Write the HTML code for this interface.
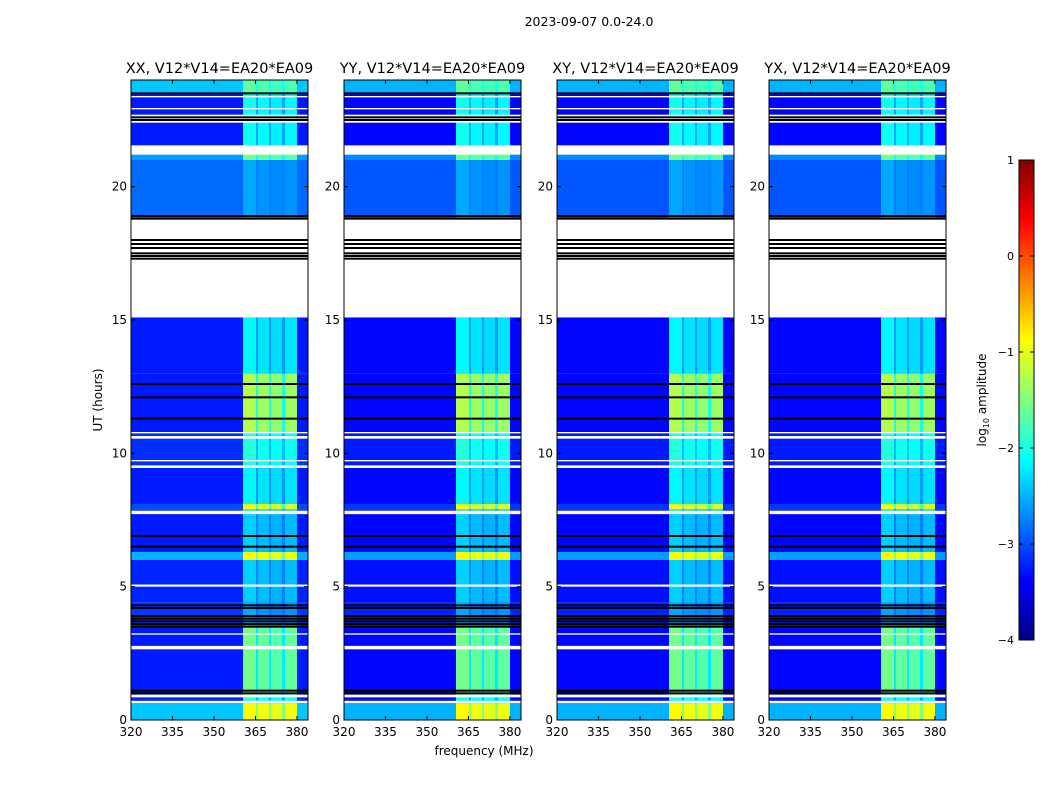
<!DOCTYPE html>
<html><head><meta charset="utf-8">
<style>
body{margin:0;background:#fff;}
svg text{font-family:"DejaVu Sans","Liberation Sans",sans-serif;}
</style></head>
<body>
<svg id="fig" width="1050" height="800" xmlns="http://www.w3.org/2000/svg">
<rect width="1050" height="800" fill="#fff"/>
<text x="589" y="26" font-size="12.5" text-anchor="middle">2023-09-07 0.0-24.0</text>
<text x="484" y="755" font-size="12" text-anchor="middle">frequency (MHz)</text>
<text x="102" y="400" font-size="12" text-anchor="middle" transform="rotate(-90 102 400)">UT (hours)</text>
<g id="panels"></g>
<g id="cbar"></g>
</svg>
<script>
const pols=["XX","YY","XY","YX"];
const panelX=[131,344,557,769];
// time segments (hours): start, end, base log-amp, RFI band log-amp
const segStart=[0,0.6,0.95,3.5,4.4,6.0,6.3,7.9,8.1,9.5,10.8,13.0,18.8,21.0,21.5,23.5];
const segEnd  =[0.6,0.95,3.5,4.4,6.0,6.3,7.9,8.1,9.5,10.8,13.0,15.1,21.0,21.5,23.5,24];
const segBase =[-2.4,-3.2,-3.25,-3.1,-3.2,-2.5,-3.25,-3.0,-3.25,-3.15,-3.25,-3.25,-2.85,-2.6,-3.25,-2.4];
const segRfi  =[-1.0,-2.1,-1.7,-2.7,-2.5,-1.0,-2.5,-1.1,-2.3,-2.1,-1.4,-2.3,-2.7,-1.7,-2.2,-1.8];
// RFI channel bands (MHz) and relative strength
const bandStart=[360.5,365.9,370.6,375.7];
const bandEnd  =[365.2,369.9,374.6,380.0];
const bandGain =[0.15,0.05,0.0,0.05];
// flagged (white) intervals
const flagStart=[0.62,0.85,2.65,3.2,5.0,7.72,9.45,9.7,10.55,10.75,15.1,21.2,22.4,22.9,23.35];
const flagEnd  =[0.72,0.95,2.78,3.25,5.08,7.85,9.55,9.75,10.65,10.8,18.75,21.55,22.7,22.95,23.4];
// black lines (hours)
const blackH=[1.0,1.1,3.5,3.6,3.7,3.8,3.9,4.2,4.3,6.5,6.9,11.3,12.1,12.6,17.3,17.4,17.5,17.7,17.85,18.0,18.8,18.9,22.5,22.6,23.5];
const xTicks=[320,335,350,365,380];
const yTicks=[0,5,10,15,20];
const cbTicks=[1,0,-1,-2,-3,-4];
const cbLabels=["1","0","\u22121","\u22122","\u22123","\u22124"];

const W=177,TOP=80,BOT=720,F0=320,F1=384;
const NS="http://www.w3.org/2000/svg";
function xs(px,f){return px+(f-F0)/(F1-F0)*W;}
function ys(h){return BOT-h/24*(BOT-TOP);}
function jet(v){let t=(v+4)/5;t=Math.max(0,Math.min(1,t));
 const c=x=>Math.round(255*Math.max(0,Math.min(1,1.5-Math.abs(4*t-x))));
 return `rgb(${c(3)},${c(2)},${c(1)})`;}
function el(tag,attrs,parent){const e=document.createElementNS(NS,tag);for(const k in attrs)e.setAttribute(k,attrs[k]);parent.appendChild(e);return e;}
const G=document.getElementById('panels');
panelX.forEach((px,pi)=>{
 const g=el('g',{},G);
 
 
 for(let i=0;i<segStart.length;i++){
  const y0=ys(segEnd[i]),y1=ys(segStart[i]);
  const polAdj=(pi===0?0:-0.1);
  const r=el('rect',{x:px,y:y0,width:W,height:y1-y0,fill:jet(segBase[i]+polAdj)},g);
  
  
  const d=el('rect',{x:xs(px,bandStart[0]),y:y0,width:xs(px,bandEnd[3])-xs(px,bandStart[0]),height:y1-y0,fill:jet((segBase[i]+2*segRfi[i])/3)},g);
  
  
  for(let b=0;b<bandStart.length;b++){
   const rr=el('rect',{x:xs(px,bandStart[b]),y:y0,width:xs(px,bandEnd[b])-xs(px,bandStart[b]),height:y1-y0,fill:jet(segRfi[i]+bandGain[b])},g);
   
   
  }
 }
 for(let i=0;i<flagStart.length;i++){
  const y0=ys(flagEnd[i]),y1=ys(flagStart[i]);
  const f=el('rect',{x:px,y:y0,width:W,height:y1-y0,fill:'#fff'},g);
  
  
 }
 blackH.forEach(h=>{
  const l=el('rect',{x:px,y:ys(h)-1,width:W,height:2,fill:'#000'},g);
  
  
 });
 const fr=el('rect',{x:px,y:TOP,width:W,height:BOT-TOP,fill:'none',stroke:'#000','stroke-width':1},g);
 
 
 const t=el('text',{x:px+W/2,y:73,'font-size':14.5,'text-anchor':'middle'},g);
 t.textContent=pols[pi]+', V12*V14=EA20*EA09';
 
 
 xTicks.forEach(v=>{
  const x=xs(px,v);
  el('line',{x1:x,x2:x,y1:BOT,y2:BOT-4,stroke:'#000'},g);
  el('line',{x1:x,x2:x,y1:TOP,y2:TOP+4,stroke:'#000'},g);
  const tx=el('text',{x:x,y:BOT+16,'font-size':12,'text-anchor':'middle'},g);
  tx.textContent=v;
  
  
 });
 yTicks.forEach(v=>{
  const y=ys(v);
  el('line',{x1:px,x2:px+4,y1:y,y2:y,stroke:'#000'},g);
  el('line',{x1:px+W,x2:px+W-4,y1:y,y2:y,stroke:'#000'},g);
  const ty=el('text',{x:px-4,y:y+4,'font-size':12,'text-anchor':'end'},g);
  ty.textContent=v;
  
  
 });
});
const C=document.getElementById('cbar');


const cx=1019,cw=15,ct=160,cb=640;
for(let i=0;i<120;i++){
 const v=-4+5*(i+0.5)/120;
 el('rect',{x:cx,y:cb-(i+1)*(cb-ct)/120,width:cw,height:(cb-ct)/120+0.5,fill:jet(v)},C);
}
el('rect',{x:cx,y:ct,width:cw,height:cb-ct,fill:'none',stroke:'#000'},C);
cbTicks.forEach((v,i)=>{
 const y=cb-(v+4)/5*(cb-ct);
 el('line',{x1:cx,x2:cx+4,y1:y,y2:y,stroke:'#000'},C);
 el('line',{x1:cx+cw,x2:cx+cw-4,y1:y,y2:y,stroke:'#000'},C);
 const t=el('text',{x:cx-5,y:y+4,'font-size':11,'text-anchor':'end'},C);
 t.textContent=cbLabels[i];
 
 
});
const cl=el('text',{x:986,y:400,'font-size':12,'text-anchor':'middle',transform:'rotate(-90 986 400)'},C);
cl.innerHTML='log<tspan font-size="8" dy="3">10</tspan><tspan dy="-3"> amplitude</tspan>';


</script>
</body></html>
